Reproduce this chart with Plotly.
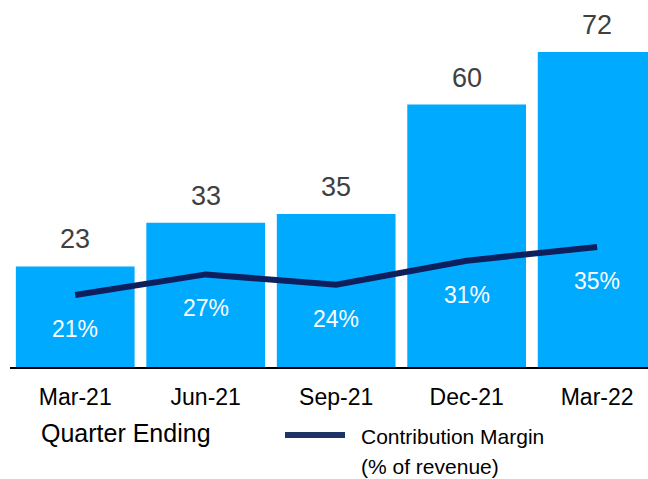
import plotly.graph_objects as go

quarters = ["Mar-21", "Jun-21", "Sep-21", "Dec-21", "Mar-22"]
revenue = [23, 33, 35, 60, 72]
margin_pct = [21, 27, 24, 31, 35]
margin_labels = ["21%", "27%", "24%", "31%", "35%"]

FONT = "Liberation Sans, Arial, sans-serif"
BAR_COLOR = "#00AAFF"
LINE_COLOR = "#0D1F5C"

W, H = 648, 479
ML, MR, MT, MB = 10, 0, 10, 112

fig = go.Figure()
fig.add_trace(go.Bar(x=quarters, y=revenue, marker=dict(color=BAR_COLOR, line=dict(width=0)),
                     showlegend=False, hoverinfo="skip"))
fig.add_trace(go.Scatter(x=quarters, y=margin_pct, yaxis="y2", mode="lines",
                         line=dict(color=LINE_COLOR, width=6), showlegend=False, hoverinfo="skip"))

annotations = []
for q, v in zip(quarters, revenue):
    annotations.append(dict(x=q, y=v, xref="x", yref="y", text=str(v), showarrow=False,
                            yshift=27, font=dict(family=FONT, size=27, color="#404040")))
for q, p, t in zip(quarters, margin_pct, margin_labels):
    annotations.append(dict(x=q, y=p, xref="x", yref="y2", text=t, showarrow=False,
                            yshift=-34, font=dict(family=FONT, size=23, color="white")))

ph = H - MT - MB
pw = W - ML - MR
def py(pix):
    return (H - MB - pix) / ph
def px(pix):
    return (pix - ML) / pw

annotations.append(dict(x=px(39), y=py(433), xref="paper", yref="paper", text="Quarter Ending",
                        showarrow=False, xanchor="left", yanchor="middle",
                        font=dict(family=FONT, size=25, color="black")))
annotations.append(dict(x=px(359), y=py(436), xref="paper", yref="paper", text="Contribution Margin",
                        showarrow=False, xanchor="left", yanchor="middle",
                        font=dict(family=FONT, size=21, color="black")))
annotations.append(dict(x=px(359), y=py(467), xref="paper", yref="paper", text="(% of revenue)",
                        showarrow=False, xanchor="left", yanchor="middle",
                        font=dict(family=FONT, size=21, color="black")))

fig.update_layout(
    width=W, height=H,
    margin=dict(l=ML, r=MR, t=MT, b=MB),
    paper_bgcolor="white", plot_bgcolor="white",
    bargap=0.09,
    xaxis=dict(range=[-0.5, 4.39], showgrid=False, zeroline=False, showline=True,
               linecolor="black", linewidth=2, ticks="", ticklabelstandoff=8,
               tickfont=dict(family=FONT, size=23, color="black")),
    yaxis=dict(range=[0, 81.6], visible=False),
    yaxis2=dict(range=[0, 104.1], overlaying="y", visible=False),
    font=dict(family=FONT),
    annotations=annotations,
)
fig.add_shape(type="line", xref="paper", yref="paper", x0=px(285), x1=px(345), y0=py(435), y1=py(435),
              line=dict(color="#1F3366", width=6))

fig.write_html("out.html", config={"displayModeBar": False},
               post_script="document.body.style.margin='0px';")
